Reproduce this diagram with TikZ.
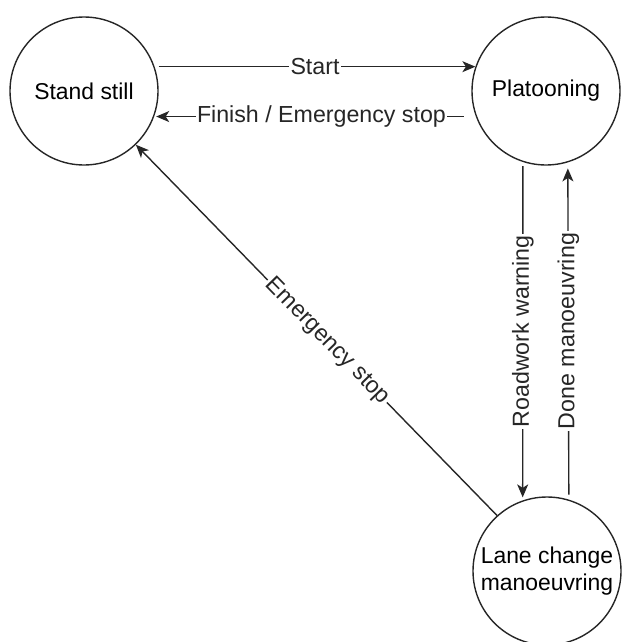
\documentclass[tikz,border=0pt]{standalone}
\usepackage{fontspec}
\setmainfont{Liberation Sans}
\usetikzlibrary{arrows.meta}
\begin{document}
\begin{tikzpicture}[x=1pt,y=1pt,
  state/.style={circle,draw=black!85,line width=1.4pt,minimum size=148pt,inner sep=0pt,align=center,
    font=\fontsize{22.9}{27.5}\selectfont},
  trans/.style={draw=black!85,line width=1.4pt,-{Stealth[length=13pt,width=11pt,inset=3.5pt]}},
  lbl/.style={fill=white,inner sep=1.5pt,text=black!85,font=\fontsize{23.2}{27}\selectfont}]
\useasboundingbox (0,0) rectangle (622,-642);

% states
\node[state] (stand) at (84,-91) {Stand still};
\node[state] (plat) at (546,-91) {Platooning};
\node[state] (lane) at (547,-571) {Lane change\\manoeuvring};

% transitions
\draw[trans,shorten <=4pt] (stand.19) -- node[lbl] {Start} (plat.161);
\draw[trans,shorten <=12pt,shorten >=2pt] (plat.200) -- node[lbl,pos=0.48] {Finish / Emergency stop} (stand.-20);
\draw[trans,shorten <=4pt,shorten >=3pt] (plat.252) -- node[lbl,rotate=90] {Roadwork warning} (lane.109.5);
\draw[trans,shorten <=5pt,shorten >=6pt] (lane.73) -- node[lbl,rotate=90] {Done manoeuvring} (plat.287);
\draw[trans] (lane.132) -- node[lbl,sloped,pos=0.47] {Emergency stop} (stand.-46);
\end{tikzpicture}
\end{document}
